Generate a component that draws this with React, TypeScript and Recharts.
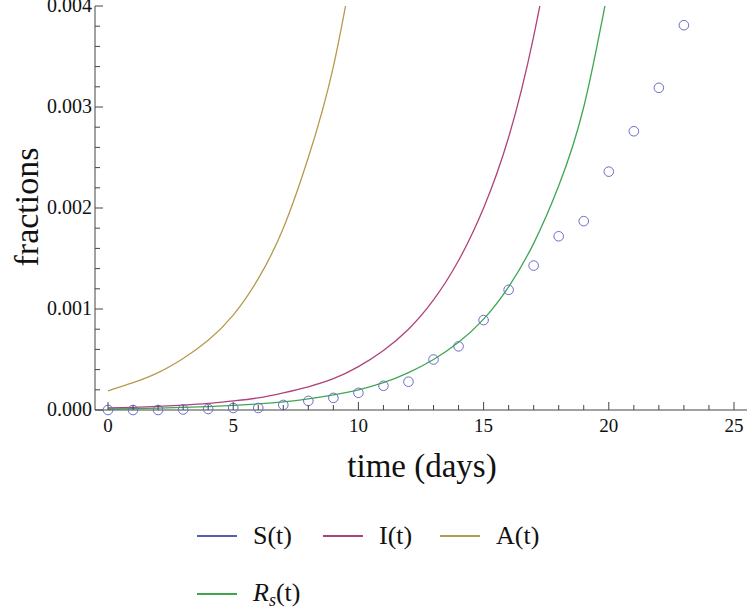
import React from 'react';
import { ComposedChart, Line, Scatter, XAxis, YAxis, Label } from 'recharts';

// observed fractions, one point per day
const days = [0, 1, 2, 3, 4, 5, 6, 7, 8, 9, 10, 11, 12, 13, 14, 15, 16, 17, 18, 19, 20, 21, 22, 23];
const observed = [
  0.0, 0.0, 0.0, 0.000005, 0.00001, 0.00002, 0.00002, 0.00005, 0.00009, 0.00012, 0.00017, 0.00024,
  0.00028, 0.0005, 0.00063, 0.00089, 0.00119, 0.00143, 0.00172, 0.00187, 0.00236, 0.00276, 0.00319, 0.00381,
];

// model curves (sampled daily)
const aDays = [0, 1, 2, 3, 4, 5, 6, 7, 8, 9, 10];
const aValues = [0.00019, 0.00027, 0.00037, 0.00051, 0.00069, 0.00094, 0.0013, 0.0018, 0.0025, 0.0034, 0.0047];

const iDays = [0, 1, 2, 3, 4, 5, 6, 7, 8, 9, 10, 11, 12, 13, 14, 15, 16, 17, 18];
const iValues = [
  0.00002, 0.000026, 0.000035, 0.000048, 0.000065, 0.00009, 0.00012, 0.00017, 0.00023, 0.00031, 0.00043,
  0.00059, 0.0008, 0.00109, 0.00148, 0.002, 0.0027, 0.0037, 0.005,
];

const rDays = [0, 1, 2, 3, 4, 5, 6, 7, 8, 9, 10, 11, 12, 13, 14, 15, 16, 17, 18, 19, 20];
const rValues = [
  0.00001, 0.000014, 0.000018, 0.000025, 0.000034, 0.000045, 0.00006, 0.00008, 0.00011, 0.00015, 0.0002,
  0.00027, 0.00037, 0.0005, 0.00067, 0.0009, 0.00122, 0.00165, 0.00222, 0.003, 0.0042,
];

const xTicks = [0, 1, 2, 3, 4, 5, 6, 7, 8, 9, 10, 11, 12, 13, 14, 15, 16, 17, 18, 19, 20, 21, 22, 23, 24, 25];
const yTicks = [
  0, 0.0002, 0.0004, 0.0006, 0.0008, 0.001, 0.0012, 0.0014, 0.0016, 0.0018, 0.002,
  0.0022, 0.0024, 0.0026, 0.0028, 0.003, 0.0032, 0.0034, 0.0036, 0.0038, 0.004,
];

const colors = { S: '#5a5ab0', I: '#b0427a', A: '#b39b4f', R: '#3fa650', dots: '#6b6bcc' };
const frame = '#444';
const serif = '"Liberation Serif", "DejaVu Serif", serif';
const textStyle = { fontFamily: serif, fill: '#111' };

const toPoints = (xs: number[], ys: number[]) => xs.map((t, i) => ({ t, v: ys[i] }));

const isMajorY = (v: number) => Math.round(v * 10000) % 10 === 0;

const BottomTick = (props: any) => {
  const { x, y, payload } = props;
  const major = payload.value % 5 === 0;
  return (
    <g>
      <line x1={x} x2={x} y1={y} y2={y - (major ? 8 : 5)} stroke={frame} />
      {major && (
        <text x={x} y={y + 22} textAnchor="middle" style={{ ...textStyle, fontSize: 19 }}>
          {payload.value}
        </text>
      )}
    </g>
  );
};

const TopTick = (props: any) => {
  const { x, y, payload } = props;
  const major = payload.value % 5 === 0;
  return <line x1={x} x2={x} y1={y} y2={y + (major ? 8 : 5)} stroke={frame} />;
};

const LeftTick = (props: any) => {
  const { x, y, payload } = props;
  const major = isMajorY(payload.value);
  return (
    <g>
      <line x1={x} x2={x + (major ? 8 : 5)} y1={y} y2={y} stroke={frame} />
      {major && (
        <text x={x - 3} y={y + 6} textAnchor="end" style={{ ...textStyle, fontSize: 20 }}>
          {payload.value.toFixed(3)}
        </text>
      )}
    </g>
  );
};

const RightTick = (props: any) => {
  const { x, y, payload } = props;
  const major = isMajorY(payload.value);
  return <line x1={x} x2={x - (major ? 8 : 5)} y1={y} y2={y} stroke={frame} />;
};

const Dot = (props: any) => (
  <circle cx={props.cx} cy={props.cy} r={4.8} fill="none" stroke={colors.dots} strokeWidth={1} />
);

const legendItems = [
  { label: 'S(t)', color: colors.S, left: 197, top: 536 },
  { label: 'I(t)', color: colors.I, left: 323, top: 536 },
  { label: 'A(t)', color: colors.A, left: 440, top: 536 },
  { label: 'R', color: colors.R, left: 197, top: 594 },
];

const App = () => {
  return (
    <div style={{ position: 'absolute', left: 0, top: 0, width: 748, height: 608, background: '#fff' }}>
      <ComposedChart width={748} height={608} margin={{ top: 6, right: 1, left: 0, bottom: 0 }}>
        <XAxis
          xAxisId="bottom"
          dataKey="t"
          type="number"
          domain={[-0.52, 25.52]}
          ticks={xTicks}
          tick={<BottomTick />}
          tickLine={false}
          tickSize={0}
          tickMargin={0}
          interval={0}
          height={198}
          axisLine={{ stroke: frame }}
          label={
            <Label
              content={() => (
                <text x={422} y={477} textAnchor="middle" style={{ ...textStyle, fontSize: 33 }}>
                  time (days)
                </text>
              )}
            />
          }
        />
        <XAxis
          xAxisId="top"
          orientation="top"
          dataKey="t"
          type="number"
          domain={[-0.52, 25.52]}
          ticks={xTicks}
          tick={<TopTick />}
          tickLine={false}
          tickSize={0}
          tickMargin={0}
          interval={0}
          height={0}
          axisLine={{ stroke: frame }}
        />
        <YAxis
          yAxisId="left"
          type="number"
          domain={[0, 0.004]}
          allowDataOverflow
          ticks={yTicks}
          tick={<LeftTick />}
          tickLine={false}
          tickSize={0}
          tickMargin={0}
          interval={0}
          width={95}
          axisLine={{ stroke: frame }}
          label={
            <Label
              content={() => (
                <text
                  x={0}
                  y={0}
                  transform="translate(38 207) rotate(-90)"
                  textAnchor="middle"
                  style={{ ...textStyle, fontSize: 34 }}
                >
                  fractions
                </text>
              )}
            />
          }
        />
        <YAxis
          yAxisId="right"
          orientation="right"
          type="number"
          domain={[0, 0.004]}
          ticks={yTicks}
          tick={<RightTick />}
          tickLine={false}
          tickSize={0}
          tickMargin={0}
          interval={0}
          width={0}
          axisLine={{ stroke: frame }}
        />
        <Line
          xAxisId="bottom"
          yAxisId="left"
          data={toPoints(aDays, aValues)}
          dataKey="v"
          type="natural"
          stroke={colors.A}
          strokeWidth={1.3}
          dot={false}
          isAnimationActive={false}
        />
        <Line
          xAxisId="bottom"
          yAxisId="left"
          data={toPoints(iDays, iValues)}
          dataKey="v"
          type="natural"
          stroke={colors.I}
          strokeWidth={1.3}
          dot={false}
          isAnimationActive={false}
        />
        <Line
          xAxisId="bottom"
          yAxisId="left"
          data={toPoints(rDays, rValues)}
          dataKey="v"
          type="natural"
          stroke={colors.R}
          strokeWidth={1.3}
          dot={false}
          isAnimationActive={false}
        />
        <Scatter
          xAxisId="bottom"
          yAxisId="right"
          data={toPoints(days, observed)}
          dataKey="v"
          shape={<Dot />}
          isAnimationActive={false}
        />
      </ComposedChart>
      {legendItems.map((item) => (
        <div
          key={item.label}
          style={{
            position: 'absolute',
            left: item.left,
            top: item.top - 16,
            height: 32,
            display: 'flex',
            alignItems: 'center',
            fontFamily: serif,
            fontSize: 26,
            color: '#111',
            whiteSpace: 'nowrap',
          }}
        >
          <span
            style={{ display: 'inline-block', width: 40, height: 1.3, backgroundColor: item.color, marginRight: 16 }}
          />
          {item.label === 'R' ? (
            <span>
              <i>R</i>
              <sub style={{ fontStyle: 'italic', fontSize: 18, verticalAlign: '-5px' }}>s</sub>(t)
            </span>
          ) : (
            <span>{item.label}</span>
          )}
        </div>
      ))}
    </div>
  );
};

export default App;
